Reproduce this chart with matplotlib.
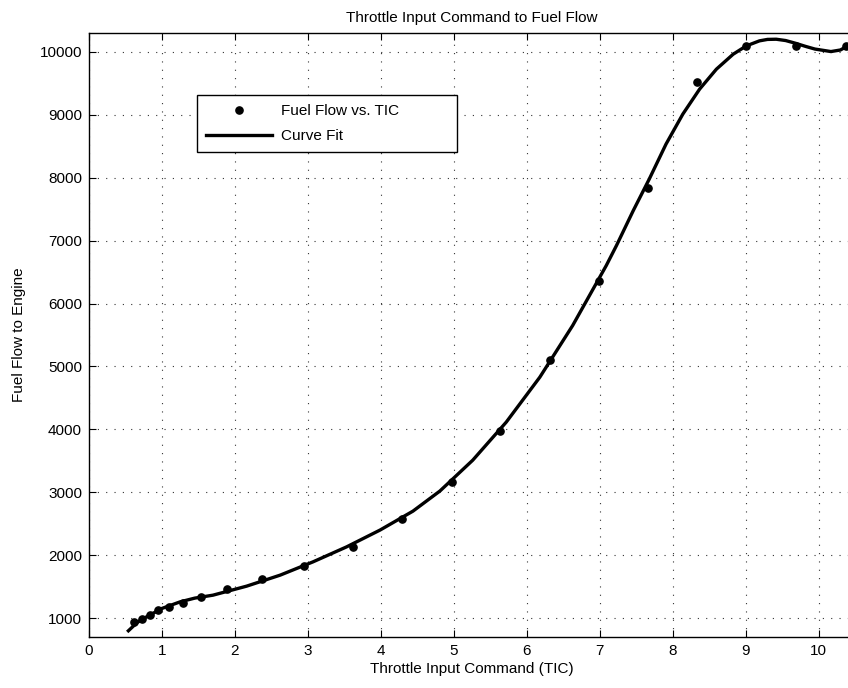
"""Throttle input command vs. fuel flow, with the fitted curve."""

import matplotlib

matplotlib.use("Agg")
import matplotlib.pyplot as plt

tic = [0.61, 0.72, 0.83, 0.95, 1.10, 1.29, 1.54, 1.89, 2.37, 2.95, 3.62,
       4.29, 4.97, 5.64, 6.32, 6.99, 7.66, 8.34, 9.01, 9.69, 10.37]
fuel_flow = [932, 984, 1048, 1127, 1180, 1245, 1335, 1455, 1616, 1836, 2132,
             2582, 3164, 3973, 5106, 6365, 7836, 9524, 10095, 10095, 10095]

# fitted curve
fit_x = [0.54, 0.66, 0.79, 1.00, 1.25, 1.45, 1.70, 2.16, 2.62, 3.07, 3.53,
         3.99, 4.44, 4.81, 5.26, 5.72, 6.18, 6.63, 7.09, 7.23, 7.46, 7.68,
         7.91, 8.14, 8.37, 8.60, 8.83, 9.01, 9.19, 9.30, 9.42, 9.55, 9.69,
         9.82, 9.95, 10.17, 10.30, 10.40]
fit_y = [799, 930, 1021, 1154, 1259, 1318, 1365, 1508, 1683, 1894, 2132,
         2400, 2700, 3020, 3510, 4116, 4830, 5651, 6603, 6921, 7476, 7979,
         8535, 9011, 9408, 9725, 9963, 10095, 10175, 10198, 10201, 10180, 10135,
         10088, 10045, 10005, 10030, 10095]

x_ticks = list(range(0, 11))
y_ticks = list(range(1000, 10001, 1000))

plt.rcParams["font.family"] = ["Liberation Sans", "DejaVu Sans"]

fig = plt.figure(figsize=(8.48, 6.88), dpi=100)
ax = fig.add_axes([89 / 848, 51 / 688, 766 / 848, 604 / 688])

ax.plot(tic, fuel_flow, "o", color="black", markersize=5.2, label="Fuel Flow vs. TIC")
ax.plot(fit_x, fit_y, "-", color="black", linewidth=2.4, label="Curve Fit",
        solid_joinstyle="round")

ax.set_xlim(0, 10.5)
ax.set_ylim(700, 10300)
ax.set_xticks(x_ticks)
ax.set_yticks(y_ticks)
ax.tick_params(direction="in", length=5, width=0.8, top=True, right=True,
               labelsize=11, pad=5, colors="black")
ax.grid(True, linestyle=(0, (1, 6.5)), color="0.2", linewidth=0.8)
for side in ("left", "bottom", "top"):
    ax.spines[side].set_linewidth(1.0)
ax.spines["right"].set_visible(False)

ax.set_title("Throttle Input Command to Fuel Flow", fontsize=11, pad=8)
ax.set_xlabel("Throttle Input Command (TIC)", fontsize=11, labelpad=3)
ax.set_ylabel("Fuel Flow to Engine", fontsize=11, labelpad=10)

leg = ax.legend(loc="upper left", bbox_to_anchor=(0.141, 0.808, 0.339, 0.089),
                mode="expand", fancybox=False, framealpha=1, edgecolor="black",
                handlelength=4.3, handletextpad=0.6, borderpad=0.6,
                labelspacing=0.7, fontsize=11, borderaxespad=0)
leg.get_frame().set_linewidth(1.0)

fig.savefig("out.png", dpi=100)
